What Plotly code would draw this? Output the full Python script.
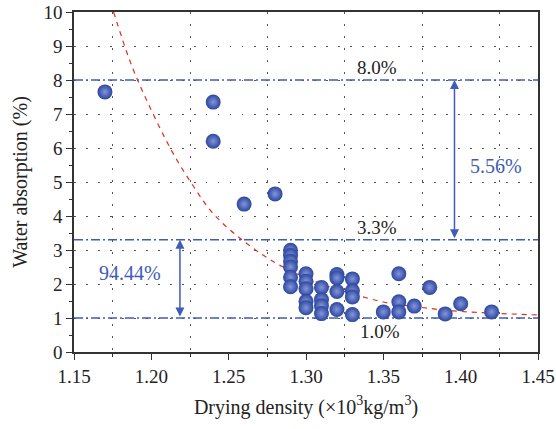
import plotly.graph_objects as go

# Scatter data (drying density x10^3 kg/m3, water absorption %)
density = [1.17, 1.24, 1.24, 1.26, 1.28,
           1.29, 1.29, 1.29, 1.29, 1.29, 1.29,
           1.30, 1.30, 1.30, 1.30, 1.30,
           1.31, 1.31, 1.31, 1.31,
           1.32, 1.32, 1.32, 1.32,
           1.33, 1.33, 1.33, 1.33,
           1.35, 1.36, 1.36, 1.36, 1.37, 1.38, 1.39, 1.40, 1.42]
absorption = [7.65, 7.35, 6.2, 4.35, 4.65,
              2.99, 2.84, 2.67, 2.5, 2.2, 1.92,
              2.3, 2.08, 1.86, 1.49, 1.3,
              1.9, 1.54, 1.36, 1.13,
              2.28, 2.18, 1.78, 1.25,
              2.15, 1.8, 1.62, 1.1,
              1.18, 2.3, 1.48, 1.18, 1.35, 1.9, 1.12, 1.42, 1.18]

# Fitted curve points
fit_x = [1.1756, 1.186, 1.194, 1.213, 1.226, 1.24, 1.26, 1.28, 1.29, 1.31, 1.33, 1.35, 1.36, 1.395, 1.45]
fit_y = [10.0, 8.58, 7.7, 5.93, 4.96, 4.07, 3.25, 2.63, 2.39, 2.0, 1.71, 1.47, 1.4, 1.21, 1.09]

# Reference levels
levels = [8.0, 3.3, 1.0]
level_labels = ["8.0%", "3.3%", "1.0%"]
level_label_x = [1.346, 1.346, 1.348]
level_label_y = [8.36, 3.66, 0.6]

# Arrows (x, y_top, y_bottom) and their labels
arrow_x = [1.396, 1.2185]
arrow_top = [8.0, 3.3]
arrow_bottom = [3.3, 1.0]
arrow_labels = ["5.56%", "94.44%"]
arrow_label_x = [1.423, 1.186]
arrow_label_y = [5.47, 2.33]

BLUE = "#3e5cb8"
FONT = "Liberation Serif"

fig = go.Figure()

for lv in levels:
    fig.add_trace(go.Scatter(x=[1.15, 1.45], y=[lv, lv], mode="lines",
                             line=dict(color=BLUE, width=1.4, dash="9px,3px,2px,3px"),
                             hoverinfo="skip", showlegend=False))

fig.add_trace(go.Scatter(x=fit_x, y=fit_y, mode="lines",
                         line=dict(color="#e0301e", width=1.2, dash="5px,5px", shape="spline"),
                         showlegend=False))

fig.add_trace(go.Scatter(x=density, y=absorption, mode="markers",
                         marker=dict(size=15, color="#2c469f",
                                     gradient=dict(type="radial", color="#8396da"),
                                     line=dict(width=0)),
                         showlegend=False))

annotations = []
for t, x, y in zip(level_labels, level_label_x, level_label_y):
    annotations.append(dict(x=x, y=y, text=t, showarrow=False, xref="x", yref="y",
                            font=dict(family=FONT, size=19, color="#222")))
for x, yt, yb in zip(arrow_x, arrow_top, arrow_bottom):
    annotations.append(dict(x=x, y=yt, ax=x, ay=yb, xref="x", yref="y", axref="x", ayref="y",
                            text="", showarrow=True, arrowhead=2, startarrowhead=2,
                            arrowside="end+start", arrowsize=1.2, startarrowsize=1.2,
                            arrowwidth=1.5, arrowcolor=BLUE, standoff=0, startstandoff=0))
for t, x, y in zip(arrow_labels, arrow_label_x, arrow_label_y):
    annotations.append(dict(x=x, y=y, text=t, showarrow=False, xref="x", yref="y",
                            font=dict(family=FONT, size=20, color=BLUE)))

fig.update_layout(
    width=556, height=429,
    margin=dict(l=74, r=18, t=12, b=77),
    paper_bgcolor="white", plot_bgcolor="white",
    font=dict(family=FONT, size=19, color="#222"),
    annotations=annotations,
    xaxis=dict(range=[1.15, 1.45], tick0=1.15, dtick=0.05, tickformat=".2f", automargin=False,
               showline=True, linecolor="#333", linewidth=1.5, mirror=True,
               ticks="outside", ticklen=6, tickcolor="#333", showgrid=False, zeroline=False,
               minor=dict(tick0=1.175, dtick=0.05, ticks="outside", ticklen=3, tickcolor="#333",
                          showgrid=True, gridcolor="#555", griddash="1.5px,10.5px", gridwidth=1),
               title=dict(text="Drying density (×10<sup>3</sup>kg/m<sup>3</sup>)",
                          font=dict(family=FONT, size=20), standoff=14),
               tickfont=dict(family=FONT, size=19)),
    yaxis=dict(range=[0, 10], tick0=0, dtick=1, automargin=False,
               showline=True, linecolor="#333", linewidth=1.5, mirror=True,
               ticks="outside", ticklen=6, tickcolor="#333", zeroline=False,
               showgrid=True, gridcolor="#555", griddash="1.5px,10.5px", gridwidth=1,
               minor=dict(dtick=0.5, ticks="outside", ticklen=3, tickcolor="#333", showgrid=False),
               title=dict(text="Water absorption (%)", font=dict(family=FONT, size=20), standoff=10),
               tickfont=dict(family=FONT, size=19)),
)

fig.write_html("out.html")
